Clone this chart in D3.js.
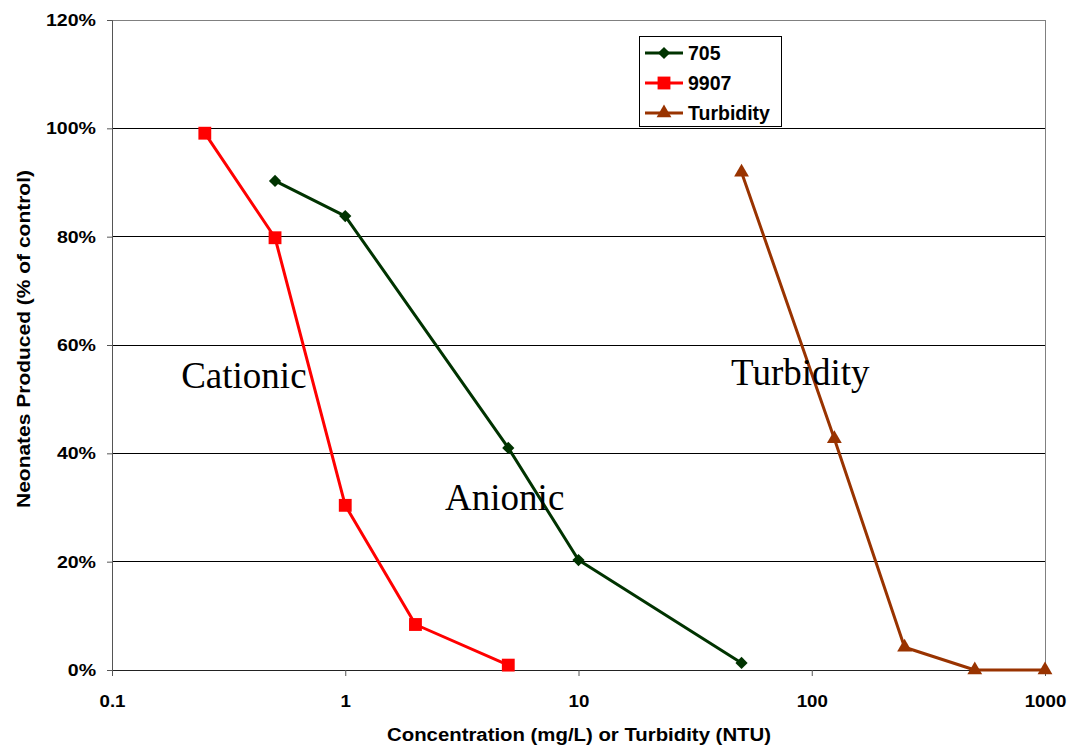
<!DOCTYPE html>
<html><head><meta charset="utf-8">
<script src="https://cdn.jsdelivr.net/npm/d3@7"></script>
<style>body{margin:0;background:#fff}</style>
</head><body>
<svg id="c" width="1072" height="749"></svg>
<script>
const xTicks = [0.1, 1, 10, 100, 1000];
const xTickLabels = ["0.1", "1", "10", "100", "1000"];
const yTicks = [0, 0.2, 0.4, 0.6, 0.8, 1.0, 1.2];
const yTickLabels = ["0%", "20%", "40%", "60%", "80%", "100%", "120%"];

const x705 = [0.5, 1, 5, 10, 50];
const y705 = [0.903, 0.838, 0.410, 0.203, 0.013];
const x9907 = [0.25, 0.5, 1, 2, 5];
const y9907 = [0.991, 0.798, 0.304, 0.084, 0.009];
const xTurb = [50, 125, 250, 500, 1000];
const yTurb = [0.919, 0.427, 0.042, 0.0, 0.0];

const seriesNames = ["705", "9907", "Turbidity"];
const annotations = [
  {text: "Cationic", x: 0.198, y: 0.521},
  {text: "Anionic", x: 2.68, y: 0.295},
  {text: "Turbidity", x: 45.1, y: 0.527}
];

const svg = d3.select("#c");
const L = 112, R = 1045, T = 20, B = 670;
const xs = d3.scaleLog().domain([0.1, 1000]).range([L, R]);
const ys = d3.scaleLinear().domain([0, 1.2]).range([B, T]);
const SANS = "Liberation Sans, Arial, sans-serif";

function stretch(sel, f) {
  sel.each(function() {
    const w = this.getComputedTextLength();
    d3.select(this).attr("textLength", w * f).attr("lengthAdjust", "spacingAndGlyphs");
  });
}

// gridlines
svg.append("g").selectAll("line").data(yTicks.filter(d => d > 0 && d < 1.2)).join("line")
  .attr("x1", L).attr("x2", R).attr("y1", d => ys(d)).attr("y2", d => ys(d))
  .attr("stroke", "#000").attr("stroke-width", 1).attr("shape-rendering", "crispEdges");
// plot border
svg.append("rect").attr("x", L).attr("y", T).attr("width", R - L).attr("height", B - T)
  .attr("fill", "none").attr("stroke", "#808080").attr("stroke-width", 1).attr("shape-rendering", "crispEdges");

// axes
const yAxis = d3.axisLeft(ys).tickValues(yTicks).tickFormat((d, i) => yTickLabels[i]).tickSize(5).tickPadding(11);
const gy = svg.append("g").attr("transform", `translate(${L},0)`).call(yAxis);
gy.select(".domain").attr("stroke", "#555");
gy.selectAll(".tick line").attr("stroke", "#555");
gy.selectAll("text").attr("font-family", SANS).attr("font-weight", "bold")
  .attr("font-size", 17).attr("fill", "#000").call(stretch, 1.15);

const xAxis = d3.axisBottom(xs).tickValues(xTicks).tickFormat((d, i) => xTickLabels[i]).tickSize(6);
const gx = svg.append("g").attr("transform", `translate(0,${B})`).call(xAxis);
gx.select(".domain").attr("stroke", "#222");
gx.selectAll(".tick line").attr("stroke", "#555");
gx.selectAll("text").attr("font-family", SANS).attr("font-weight", "bold")
  .attr("font-size", 17).attr("fill", "#000").attr("y", 37).attr("dy", 0).call(stretch, 1.1);

// axis titles
svg.append("text").attr("x", 579).attr("y", 741).attr("text-anchor", "middle")
  .attr("font-family", SANS).attr("font-weight", "bold").attr("font-size", 18)
  .attr("textLength", 384).attr("lengthAdjust", "spacingAndGlyphs")
  .text("Concentration (mg/L) or Turbidity (NTU)");
svg.append("text").attr("transform", `translate(30,339) rotate(-90)`).attr("text-anchor", "middle")
  .attr("font-family", SANS).attr("font-weight", "bold").attr("font-size", 18)
  .attr("textLength", 338).attr("lengthAdjust", "spacingAndGlyphs")
  .text("Neonates Produced (% of control)");

const series = [
  {name: seriesNames[0], xs: x705, ys: y705, color: "#003300", sym: d3.symbolDiamond2, size: 95},
  {name: seriesNames[1], xs: x9907, ys: y9907, color: "#FF0000", sym: d3.symbolSquare, size: 165},
  {name: seriesNames[2], xs: xTurb, ys: yTurb, color: "#993300", sym: d3.symbolTriangle, size: 95}
];

const line = d3.line().x(d => xs(d[0])).y(d => ys(d[1]));
series.forEach(s => {
  const pts = s.xs.map((v, i) => [v, s.ys[i]]);
  svg.append("path").datum(pts).attr("d", line).attr("fill", "none")
    .attr("stroke", s.color).attr("stroke-width", 3).attr("stroke-linejoin", "round");
  svg.append("g").selectAll("path").data(pts).join("path")
    .attr("d", d3.symbol().type(s.sym).size(s.size))
    .attr("transform", d => `translate(${xs(d[0])},${ys(d[1])})`)
    .attr("fill", s.color);
});

// annotations
svg.append("g").selectAll("text").data(annotations).join("text")
  .attr("x", d => xs(d.x)).attr("y", d => ys(d.y))
  .attr("font-family", "Liberation Serif, Times New Roman, serif").attr("font-size", 37)
  .attr("fill", "#000").text(d => d.text);

// legend
const lg = svg.append("g").attr("transform", "translate(639,36)");
lg.append("rect").attr("width", 142).attr("height", 90).attr("fill", "#fff")
  .attr("stroke", "#000").attr("stroke-width", 1).attr("shape-rendering", "crispEdges");
series.forEach((s, i) => {
  const yy = 17 + i * 30;
  lg.append("line").attr("x1", 6).attr("x2", 44).attr("y1", yy).attr("y2", yy)
    .attr("stroke", s.color).attr("stroke-width", 3);
  lg.append("path").attr("d", d3.symbol().type(s.sym).size(s.size)).attr("transform", `translate(25,${yy})`)
    .attr("fill", s.color);
  lg.append("text").attr("x", 49).attr("y", yy + 6.5).attr("font-family", SANS)
    .attr("font-weight", "bold").attr("font-size", 19.5).text(s.name);
});
</script>
</body></html>
